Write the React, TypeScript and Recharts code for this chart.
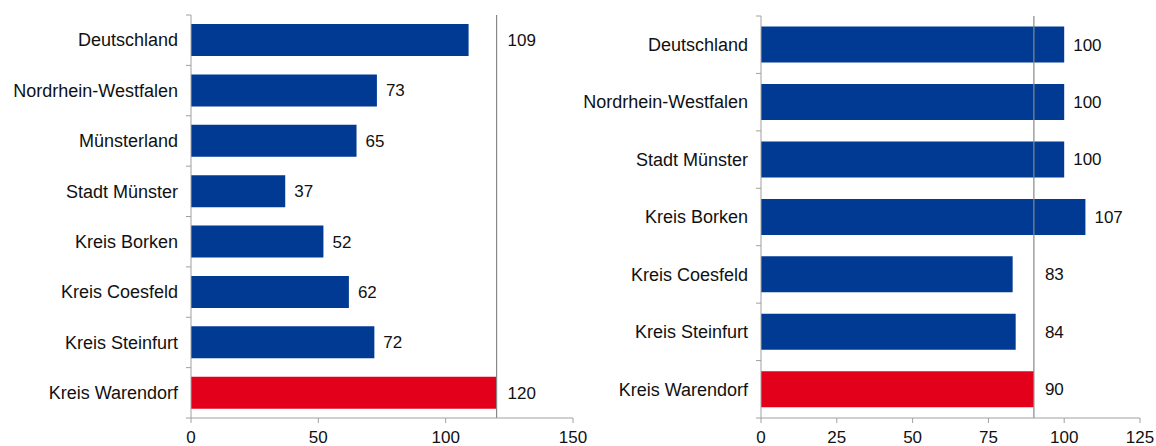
import { BarChart, Bar, XAxis, YAxis, ReferenceLine, LabelList, Cell } from 'recharts'

const leftCategories = ['Deutschland', 'Nordrhein-Westfalen', 'Münsterland', 'Stadt Münster', 'Kreis Borken', 'Kreis Coesfeld', 'Kreis Steinfurt', 'Kreis Warendorf']
const leftValues = [109, 73, 65, 37, 52, 62, 72, 120]
const leftTicks = [0, 50, 100, 150]
const leftReference = 120

const rightCategories = ['Deutschland', 'Nordrhein-Westfalen', 'Stadt Münster', 'Kreis Borken', 'Kreis Coesfeld', 'Kreis Steinfurt', 'Kreis Warendorf']
const rightValues = [100, 100, 100, 107, 83, 84, 90]
const rightTicks = [0, 25, 50, 75, 100, 125]
const rightReference = 90

const highlight = 'Kreis Warendorf'

const BLUE = '#013a93'
const RED = '#e2001a'
const AXIS = '#a0a0a0'
const FONT = '"Liberation Sans", Arial, sans-serif'
const HEIGHT = 446
const AXIS_Y = 418

interface PanelProps {
  categories: string[]
  values: number[]
  ticks: number[]
  reference: number
  left: number
  width: number
  top: number
  right: number
  axisWidth: number
  gap: string
}

function Panel({ categories, values, ticks, reference, left, width, top, right, axisWidth, gap }: PanelProps) {
  const data = categories.map((name, i) => ({ name, value: values[i] }))
  const band = (AXIS_Y - top) / categories.length

  const renderTick = (props: any) => {
    const { x, y, payload, index } = props
    return (
      <g>
        <line x1={x - 5} x2={x} y1={y - band / 2} y2={y - band / 2} stroke={AXIS} />
        {index === categories.length - 1 && (
          <line x1={x - 5} x2={x} y1={y + band / 2} y2={y + band / 2} stroke={AXIS} />
        )}
        <text x={x - 13} y={y} dy="0.35em" textAnchor="end" fontSize={18} fontFamily={FONT} fill="#111">
          {payload.value}
        </text>
      </g>
    )
  }

  // labels sit right of the bar; if one would cross the reference line it goes past it
  const renderLabel = (props: any) => {
    const { x, y, width: w, height: h, value } = props
    const refX = x + (reference * w) / value
    const textW = String(value).length * 9.5
    let tx = x + w + 9
    if (tx + textW > refX) tx = Math.max(tx, refX + 11)
    return (
      <text x={tx} y={y + h / 2} dy="0.35em" fontSize={17} fontFamily={FONT} fill="#111">
        {value}
      </text>
    )
  }

  return (
    <div style={{ position: 'absolute', left, top: 0 }}>
      <BarChart
        width={width}
        height={HEIGHT}
        data={data}
        layout="vertical"
        margin={{ top, right, bottom: 0, left: 0 }}
        barCategoryGap={gap}
      >
        <XAxis
          type="number"
          domain={[ticks[0], ticks[ticks.length - 1]]}
          ticks={ticks}
          height={HEIGHT - AXIS_Y}
          stroke={AXIS}
          tickSize={5}
          tickMargin={8}
          tick={{ fill: '#111', fontSize: 17, fontFamily: FONT }}
          interval={0}
        />
        <YAxis
          type="category"
          dataKey="name"
          width={axisWidth}
          stroke={AXIS}
          tickLine={false}
          tickSize={0}
          tickMargin={0}
          tick={renderTick}
          interval={0}
        />
        <Bar dataKey="value" isAnimationActive={false}>
          {data.map(d => (
            <Cell key={d.name} fill={d.name === highlight ? RED : BLUE} />
          ))}
          <LabelList dataKey="value" content={renderLabel} />
        </Bar>
        <ReferenceLine x={reference} stroke="#888888" strokeWidth={1.2} />
      </BarChart>
    </div>
  )
}

export default function App() {
  return (
    <div style={{ position: 'absolute', left: 0, top: 0, width: 1156, height: HEIGHT, background: '#fff' }}>
      <Panel
        categories={leftCategories}
        values={leftValues}
        ticks={leftTicks}
        reference={leftReference}
        left={0}
        width={590}
        top={15}
        right={17}
        axisWidth={191}
        gap="18%"
      />
      <Panel
        categories={rightCategories}
        values={rightValues}
        ticks={rightTicks}
        reference={rightReference}
        left={575}
        width={581}
        top={16}
        right={16}
        axisWidth={186}
        gap="18.5%"
      />
    </div>
  )
}
